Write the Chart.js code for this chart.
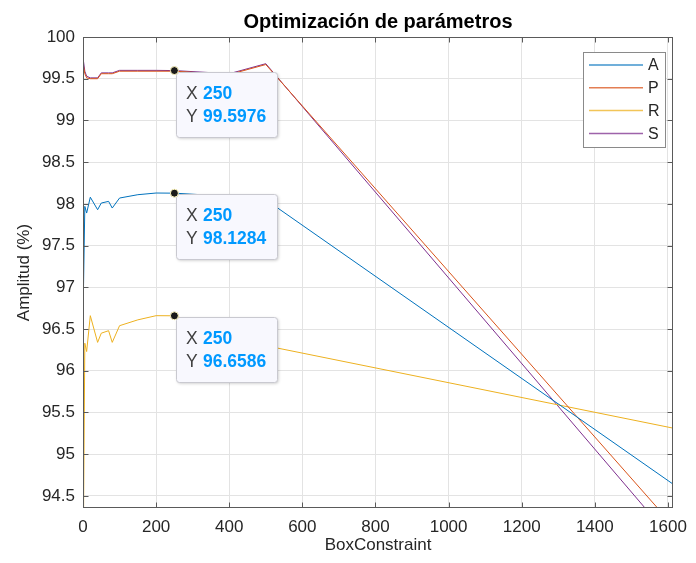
<!DOCTYPE html>
<html>
<head>
<meta charset="utf-8">
<title>Optimización de parámetros</title>
<script src="https://cdn.jsdelivr.net/npm/chart.js@4"></script>
<style>
  html, body { margin: 0; padding: 0; background: #ffffff; }
  canvas { display: block; }
</style>
</head>
<body>
<canvas id="chart" width="696" height="563"></canvas>
<script>
// BoxConstraint values that were evaluated
const boxConstraint = [0.001, 1, 5, 10, 20, 40, 50, 70, 80, 100, 150, 200, 250, 400, 500, 2000];

// Amplitude (%) per series
const ampA = [90.0, 96.90, 97.97, 97.89, 98.08, 97.93, 98.01, 98.03, 97.95, 98.07, 98.11, 98.13, 98.1284, 98.09, 98.05, 93.46];
const ampP = [90.0, 99.66, 99.56, 99.51, 99.50, 99.50, 99.56, 99.56, 99.56, 99.59, 99.59, 99.59, 99.59, 99.55, 99.67, 92.23];
const ampR = [90.0, 94.00, 96.33, 96.23, 96.66, 96.34, 96.45, 96.48, 96.34, 96.54, 96.61, 96.66, 96.6586, 96.45, 96.30, 94.97];
const ampS = [94.8, 99.72, 99.59, 99.53, 99.51, 99.51, 99.57, 99.57, 99.57, 99.60, 99.60, 99.60, 99.5976, 99.56, 99.68, 91.98];

const seriesNames = ['A', 'P', 'R', 'S'];
const seriesColors = ['#0072BD', '#D95319', '#EDB120', '#7E2F8E'];
const seriesValues = [ampA, ampP, ampR, ampS];

// Axis ticks
const xTickValues = [0, 200, 400, 600, 800, 1000, 1200, 1400, 1600];
const yTickValues = [94.5, 95, 95.5, 96, 96.5, 97, 97.5, 98, 98.5, 99, 99.5, 100];

// Data tips: series index and BoxConstraint value
const tipSeries = [3, 0, 2];
const tipX = 250;

const FONT = '"Liberation Sans", Arial, Helvetica, sans-serif';
const TEXT = '#262626';
const AXIS = '#5a5a5a';
const GRID = '#e3e3e3';

const datasets = seriesNames.map((name, i) => ({
  label: name,
  data: boxConstraint.map((x, k) => ({ x: x, y: seriesValues[i][k] })),
  borderColor: seriesColors[i],
  backgroundColor: seriesColors[i],
  borderWidth: 1,
  pointRadius: 0,
  tension: 0,
  fill: false
}));

// Title, inward tick marks, box, legend and data tips
const decorations = {
  id: 'decorations',
  afterDatasetsDraw(chart) {
    const { ctx, chartArea: a, scales: { x, y } } = chart;
    ctx.save();

    // axes box
    const L = Math.round(a.left) + 0.5, R = Math.round(a.right) - 0.5;
    const T = Math.round(a.top) + 0.5, B = Math.round(a.bottom) - 0.5;
    ctx.strokeStyle = AXIS;
    ctx.lineWidth = 1;
    ctx.strokeRect(L, T, R - L, B - T);

    // tick marks pointing inward on all four sides
    const tl = 5;
    ctx.beginPath();
    xTickValues.forEach(v => {
      const px = Math.round(x.getPixelForValue(v)) + 0.5;
      ctx.moveTo(px, B); ctx.lineTo(px, B - tl);
      ctx.moveTo(px, T); ctx.lineTo(px, T + tl);
    });
    yTickValues.forEach(v => {
      const py = Math.round(y.getPixelForValue(v)) + 0.5;
      ctx.moveTo(L, py); ctx.lineTo(L + tl, py);
      ctx.moveTo(R, py); ctx.lineTo(R - tl, py);
    });
    ctx.stroke();

    // title
    ctx.fillStyle = '#000000';
    ctx.font = 'bold 20px ' + FONT;
    ctx.textAlign = 'center';
    ctx.textBaseline = 'middle';
    ctx.fillText('Optimización de parámetros', (a.left + a.right) / 2, 22);

    // legend
    const lx = 583, ly = 52, lw = 82, lh = 95;
    ctx.fillStyle = '#ffffff';
    ctx.fillRect(lx, ly, lw, lh);
    ctx.strokeStyle = '#8a8a8a';
    ctx.strokeRect(lx + 0.5, ly + 0.5, lw, lh);
    ctx.font = '16px ' + FONT;
    ctx.textAlign = 'left';
    ctx.textBaseline = 'middle';
    chart.data.datasets.forEach((ds, i) => {
      const ry = ly + 13 + i * 22.8;
      ctx.strokeStyle = ds.borderColor;
      ctx.globalAlpha = 0.75;
      ctx.lineWidth = 1.5;
      ctx.beginPath();
      ctx.moveTo(lx + 6, ry); ctx.lineTo(lx + 60, ry);
      ctx.stroke();
      ctx.globalAlpha = 1;
      ctx.fillStyle = TEXT;
      ctx.fillText(ds.label, lx + 65, ry + 1);
    });

    // data tips
    const k = boxConstraint.indexOf(tipX);
    tipSeries.forEach(si => {
      const val = seriesValues[si][k];
      const px = x.getPixelForValue(tipX);
      const py = y.getPixelForValue(val);
      const bx = Math.round(px) + 2, by = Math.round(py) + 1, bw = 101, bh = 65;

      ctx.save();
      ctx.shadowColor = 'rgba(0,0,0,0.22)';
      ctx.shadowBlur = 3;
      ctx.shadowOffsetX = 1;
      ctx.shadowOffsetY = 1;
      ctx.fillStyle = '#f8f8fe';
      ctx.beginPath();
      ctx.roundRect(bx + 0.5, by + 0.5, bw, bh, 3);
      ctx.fill();
      ctx.restore();
      ctx.strokeStyle = '#c9c9d0';
      ctx.lineWidth = 1;
      ctx.beginPath();
      ctx.roundRect(bx + 0.5, by + 0.5, bw, bh, 3);
      ctx.stroke();

      ctx.textAlign = 'left';
      ctx.textBaseline = 'middle';
      ctx.font = '17.5px ' + FONT;
      ctx.fillStyle = '#404040';
      ctx.fillText('X', bx + 10, by + 22);
      ctx.fillText('Y', bx + 10, by + 45);
      ctx.font = 'bold 17.5px ' + FONT;
      ctx.fillStyle = '#0099ff';
      ctx.fillText(String(tipX), bx + 27, by + 22);
      ctx.fillText(String(val), bx + 27, by + 45);

      // marker
      ctx.beginPath();
      ctx.arc(px, py, 4, 0, Math.PI * 2);
      ctx.fillStyle = '#1a1a1a';
      ctx.fill();
      ctx.strokeStyle = '#fff7c0';
      ctx.lineWidth = 1;
      ctx.stroke();
    });

    ctx.restore();
  }
};

new Chart(document.getElementById('chart'), {
  type: 'line',
  data: { datasets: datasets },
  options: {
    responsive: false,
    animation: false,
    devicePixelRatio: 1,
    layout: { padding: { top: 37, right: 18, bottom: 0, left: 0 } },
    plugins: {
      legend: { display: false },
      tooltip: { enabled: false },
      title: { display: false }
    },
    scales: {
      x: {
        type: 'linear',
        min: 0,
        max: 1614,
        afterBuildTicks: s => { s.ticks = xTickValues.map(v => ({ value: v })); },
        afterFit: s => { s.height = 55; },
        ticks: {
          callback: v => String(v),
          color: TEXT,
          font: { family: FONT, size: 17 },
          padding: 9,
          maxRotation: 0,
          autoSkip: false
        },
        grid: { color: GRID, lineWidth: 1, drawTicks: false },
        border: { display: false },
        title: {
          display: true,
          text: 'BoxConstraint',
          color: TEXT,
          font: { family: FONT, size: 17 },
          padding: { top: 0, bottom: 7 }
        }
      },
      y: {
        type: 'linear',
        min: 94.355,
        max: 100,
        afterBuildTicks: s => { s.ticks = yTickValues.map(v => ({ value: v })); },
        afterFit: s => { s.width = 83; },
        ticks: {
          callback: v => String(v),
          color: TEXT,
          font: { family: FONT, size: 17 },
          padding: 8,
          autoSkip: false
        },
        grid: { color: GRID, lineWidth: 1, drawTicks: false },
        border: { display: false },
        title: {
          display: true,
          text: 'Amplitud (%)',
          color: TEXT,
          font: { family: FONT, size: 17 },
          padding: { top: 14, bottom: 0 }
        }
      }
    }
  },
  plugins: [decorations]
});
</script>
</body>
</html>
